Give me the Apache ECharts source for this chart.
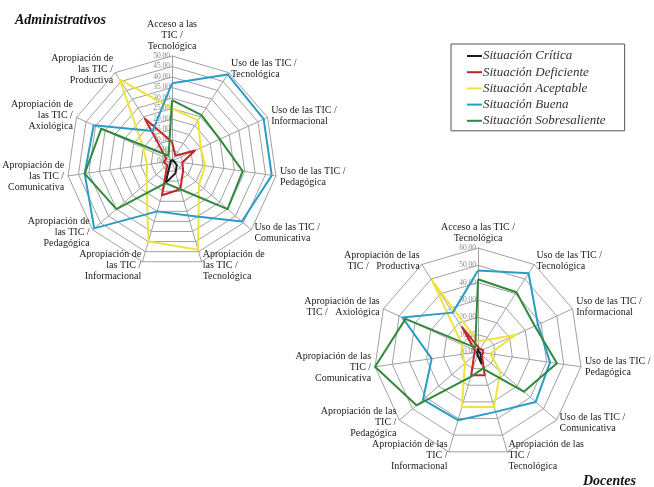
<!DOCTYPE html>
<html><head><meta charset="utf-8">
<script src="https://cdn.jsdelivr.net/npm/echarts@6/dist/echarts.min.js"></script>
<style>html,body{margin:0;padding:0;background:#fff}#c{width:654px;height:487px}</style>
</head><body><div id="c"></div>
<script>
// Categories in clockwise order starting at the top
const catsAdmin = [
  'Acceso a las\nTIC /\nTecnológica',
  'Uso de las TIC /\nTecnológica',
  'Uso de las TIC /\nInformacional',
  'Uso de las TIC /\nPedagógica',
  'Uso de las TIC /\nComunicativa',
  'Apropiación de\nlas TIC /\nTecnológica',
  'Apropiación de\nlas TIC /\nInformacional',
  'Apropiación de\nlas TIC /\nPedagógica',
  'Apropiación de\nlas TIC /\nComunicativa',
  'Apropiación de\nlas TIC /\nAxiológica',
  'Apropiación de\nlas TIC /\nProductiva'
];
const catsDoc = [
  'Acceso a las TIC /\nTecnológica',
  'Uso de las TIC /\nTecnológica',
  'Uso de las TIC /\nInformacional',
  'Uso de las TIC /\nPedagógica',
  'Uso de las TIC /\nComunicativa',
  'Apropiación de las\nTIC /\nTecnológica',
  'Apropiación de las\nTIC /\nInformacional',
  'Apropiación de las\nTIC /\nPedagógica',
  'Apropiación de las\nTIC /\nComunicativa',
  'Apropiación de las\nTIC /   Axiológica',
  'Apropiación de las\nTIC /   Productiva'
];
const seriesNames = ['Situación Crítica','Situación Deficiente','Situación Aceptable','Situación Buena','Situación Sobresaliente'];
const seriesColors = ['#1c1c1c','#c4262b','#efe43a','#2b9cc6','#2f8a3c'];

// Administrativos (max 50)
const adminCritica      = [0.5, 0.5, 0.5, 1, 3, 6, 11, 1, 0.5, 0.5, 0.5];
const adminDeficiente   = [9, 3, 12, 5, 7, 14, 17, 3, 4, 3, 24];
const adminAceptable    = [25, 23, 15, 16, 17, 44, 40, 16, 12, 15, 46];
const adminBuena        = [37, 49, 48, 48, 44, 27, 25, 49, 42, 41, 17];
const adminSobresal     = [29, 26, 25, 34, 35, 14, 11, 35, 42, 37, 3];
// Docentes (max 60)
const docCritica        = [2, 0.5, 0.5, 1, 2, 7, 1.5, 0.5, 0.5, 0.5, 0.5];
const docDeficiente     = [3, 2, 3, 3, 3, 14, 14, 3, 2, 2, 17];
const docAceptable      = [6, 8, 24, 7, 17, 33, 33, 10, 9, 10, 49];
const docBuena          = [47, 54, 38, 42, 44, 36, 41, 42, 27, 48, 27];
const docSobresal       = [42, 41, 36, 46, 35, 10, 15, 47, 60, 46, 3];

const ticksAdmin = {max: 50, split: 10};
const ticksDoc = {max: 60, split: 6};

// ECharts places indicators counter-clockwise: reorder to keep clockwise reading
function reorder(a){ return [a[0]].concat(a.slice(1).reverse()); }

const serif = 'Liberation Serif';
function indicators(cats, max){
  return reorder(cats).map((n,i)=>({name:n, max:max, min:0, axisLabel:{show:i===0}}));
}
function radarCfg(cats, t, center, radius){
  return {
    center: center, radius: radius, startAngle: 90, shape: 'polygon',
    splitNumber: t.split,
    indicator: indicators(cats, t.max),
    axisName: {color:'#222', fontFamily: serif, fontSize: 10, lineHeight: 11},
    nameGap: 4,
    splitLine: {lineStyle:{color:'#a0a0a0', width:1}},
    splitArea: {show:false},
    axisLine: {lineStyle:{color:'#a0a0a0', width:1}},
    axisTick: {show:false},
    axisLabel: {show:false, color:'#8a8a8a', fontFamily: serif, fontSize: 7.5, margin: 2,
      formatter: v => Number(v).toFixed(2)}
  };
}
function seriesData(arrs){
  return arrs.map((a,i)=>({
    name: seriesNames[i], value: reorder(a),
    lineStyle:{color: seriesColors[i], width: 2},
    itemStyle:{color: seriesColors[i]}
  }));
}

const chart = echarts.init(document.getElementById('c'));
chart.setOption({
  animation: false,
  title: [
    {text:'Administrativos', left: 10, top: 8, textStyle:{fontFamily: serif, fontSize: 14, fontStyle:'italic', fontWeight:'bold', color:'#111'}},
    {text:'Docentes', left: 578, top: 469, textStyle:{fontFamily: serif, fontSize: 14, fontStyle:'italic', fontWeight:'bold', color:'#111'}}
  ],
  legend: {
    orient: 'vertical', left: 451, top: 44,
    data: seriesNames,
    icon: 'rect', itemWidth: 15, itemHeight: 2, itemGap: 2.2,
    padding: [5, 19, 3, 16],
    borderColor: '#555', borderWidth: 1,
    textStyle: {fontFamily: serif, fontStyle: 'italic', fontSize: 13, lineHeight: 14, color:'#333', padding:[0,0,0,-4]}
  },
  radar: [
    radarCfg(catsAdmin, ticksAdmin, [172,161], 105),
    radarCfg(catsDoc, ticksDoc, [478,352], 104)
  ],
  series: [
    {type:'radar', radarIndex:0, symbol:'none', data: seriesData([adminCritica, adminDeficiente, adminAceptable, adminBuena, adminSobresal])},
    {type:'radar', radarIndex:1, symbol:'none', data: seriesData([docCritica, docDeficiente, docAceptable, docBuena, docSobresal])}
  ]
});
</script></body></html>
